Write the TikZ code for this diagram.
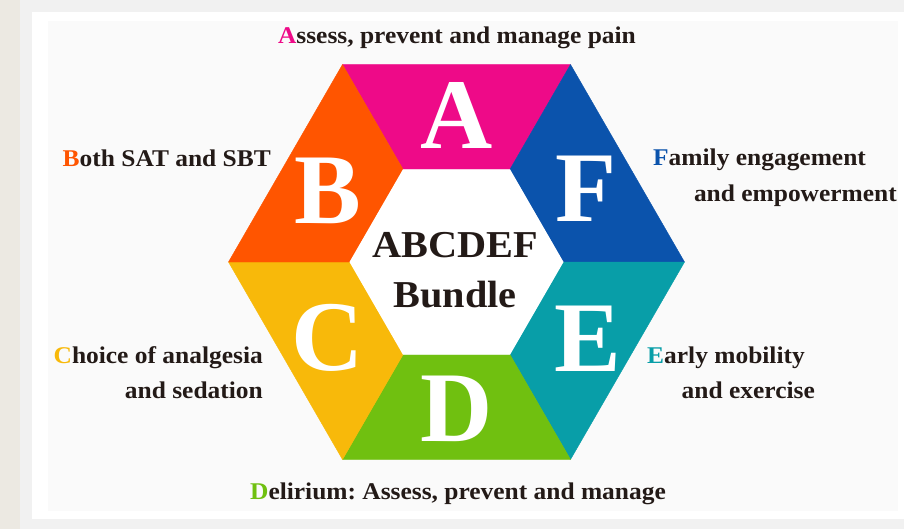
\documentclass[tikz,border=0pt]{standalone}
\usepackage{fontspec}
\setmainfont{Liberation Serif}
\usepackage{graphicx}
\frenchspacing
\definecolor{cA}{HTML}{EE0A88}
\definecolor{cB}{HTML}{FF5500}
\definecolor{cC}{HTML}{F8B90A}
\definecolor{cD}{HTML}{70C010}
\definecolor{cE}{HTML}{089EA8}
\definecolor{cF}{HTML}{0B53AC}
\definecolor{txt}{HTML}{231A17}
\definecolor{strip}{HTML}{ECE9E2}
\definecolor{outerbg}{HTML}{F1F1F1}
\definecolor{panel}{HTML}{FAFAFA}
\tikzset{
  seg/.style={line width=0.4pt, line join=round},
  bigletter/.style={text=white, font=\fontsize{100}{100}\selectfont\bfseries, inner sep=0pt},
  lab/.style={text=txt, font=\fontsize{24}{24}\selectfont\bfseries, inner sep=0pt},
  centre/.style={text=txt, font=\fontsize{38}{38}\selectfont\bfseries, inner sep=0pt}
}
\newcommand{\hs}[1]{\scalebox{1.06}[1]{#1}}
\begin{document}
\begin{tikzpicture}[x=1pt,y=-1pt]
\useasboundingbox (0,0) rectangle (904,529);
% backgrounds
\fill[outerbg] (0,0) rectangle (904,529);
\fill[strip] (0,0) rectangle (20,529);
\fill[white] (32,12) rectangle (904,519);
\fill[panel] (48,21) rectangle (898,511);
% hexagon vertices
\coordinate (o0) at (684.5,262);
\coordinate (o1) at (570.5,64.5);
\coordinate (o2) at (342.5,64.5);
\coordinate (o3) at (228.5,262);
\coordinate (o4) at (342.5,459.5);
\coordinate (o5) at (570.5,459.5);
\coordinate (i0) at (563.5,262);
\coordinate (i1) at (510,169.3);
\coordinate (i2) at (403,169.3);
\coordinate (i3) at (349.5,262);
\coordinate (i4) at (403,354.7);
\coordinate (i5) at (510,354.7);
% segments
\filldraw[seg, fill=cA, draw=cA] (o2) -- (o1) -- (i1) -- (i2) -- cycle;
\filldraw[seg, fill=cF, draw=cF] (o1) -- (o0) -- (i0) -- (i1) -- cycle;
\filldraw[seg, fill=cE, draw=cE] (o0) -- (o5) -- (i5) -- (i0) -- cycle;
\filldraw[seg, fill=cD, draw=cD] (o5) -- (o4) -- (i4) -- (i5) -- cycle;
\filldraw[seg, fill=cC, draw=cC] (o4) -- (o3) -- (i3) -- (i4) -- cycle;
\filldraw[seg, fill=cB, draw=cB] (o3) -- (o2) -- (i2) -- (i3) -- cycle;
\fill[white] (i0) -- (i1) -- (i2) -- (i3) -- (i4) -- (i5) -- cycle;
% big letters
\node[bigletter] (LA) at (457,115) {A};
\node[bigletter] (LB) at (328,191) {B};
\node[bigletter] (LF) at (586,189) {F};
\node[bigletter] (LC) at (328,338) {C};
\node[bigletter] (LE) at (588,339) {E};
\node[bigletter] (LD) at (457,409) {D};
% centre
\node[centre, anchor=base] (t1) at (455,258) {\hs{ABCDEF}};
\node[centre, anchor=base] (t2) at (455,307) {\hs{Bundle}};
% labels
\node[lab, anchor=base] (la) at (457,44) {\hs{\textcolor{cA}{A}ssess, prevent and manage pain}};
\node[lab, anchor=base] (ld) at (458,499) {\hs{\textcolor{cD}{D}elirium: Assess, prevent and manage}};
\node[lab, anchor=base east] (lb) at (271,167) {\hs{\textcolor{cB}{B}oth SAT and SBT}};
\node[lab, anchor=base east] (lc1) at (263,363) {\hs{\textcolor{cC}{C}hoice of analgesia}};
\node[lab, anchor=base east] (lc2) at (263,398) {\hs{and sedation}};
\node[lab, anchor=base west] (lf1) at (653,166) {\hs{\textcolor{cF}{F}amily engagement}};
\node[lab, anchor=base east] (lf2) at (897,202) {\hs{and empowerment}};
\node[lab, anchor=base west] (le1) at (647,363) {\hs{\textcolor{cE}{E}arly mobility}};
\node[lab, anchor=base east] (le2) at (815,398) {\hs{and exercise}};
\end{tikzpicture}
\end{document}
